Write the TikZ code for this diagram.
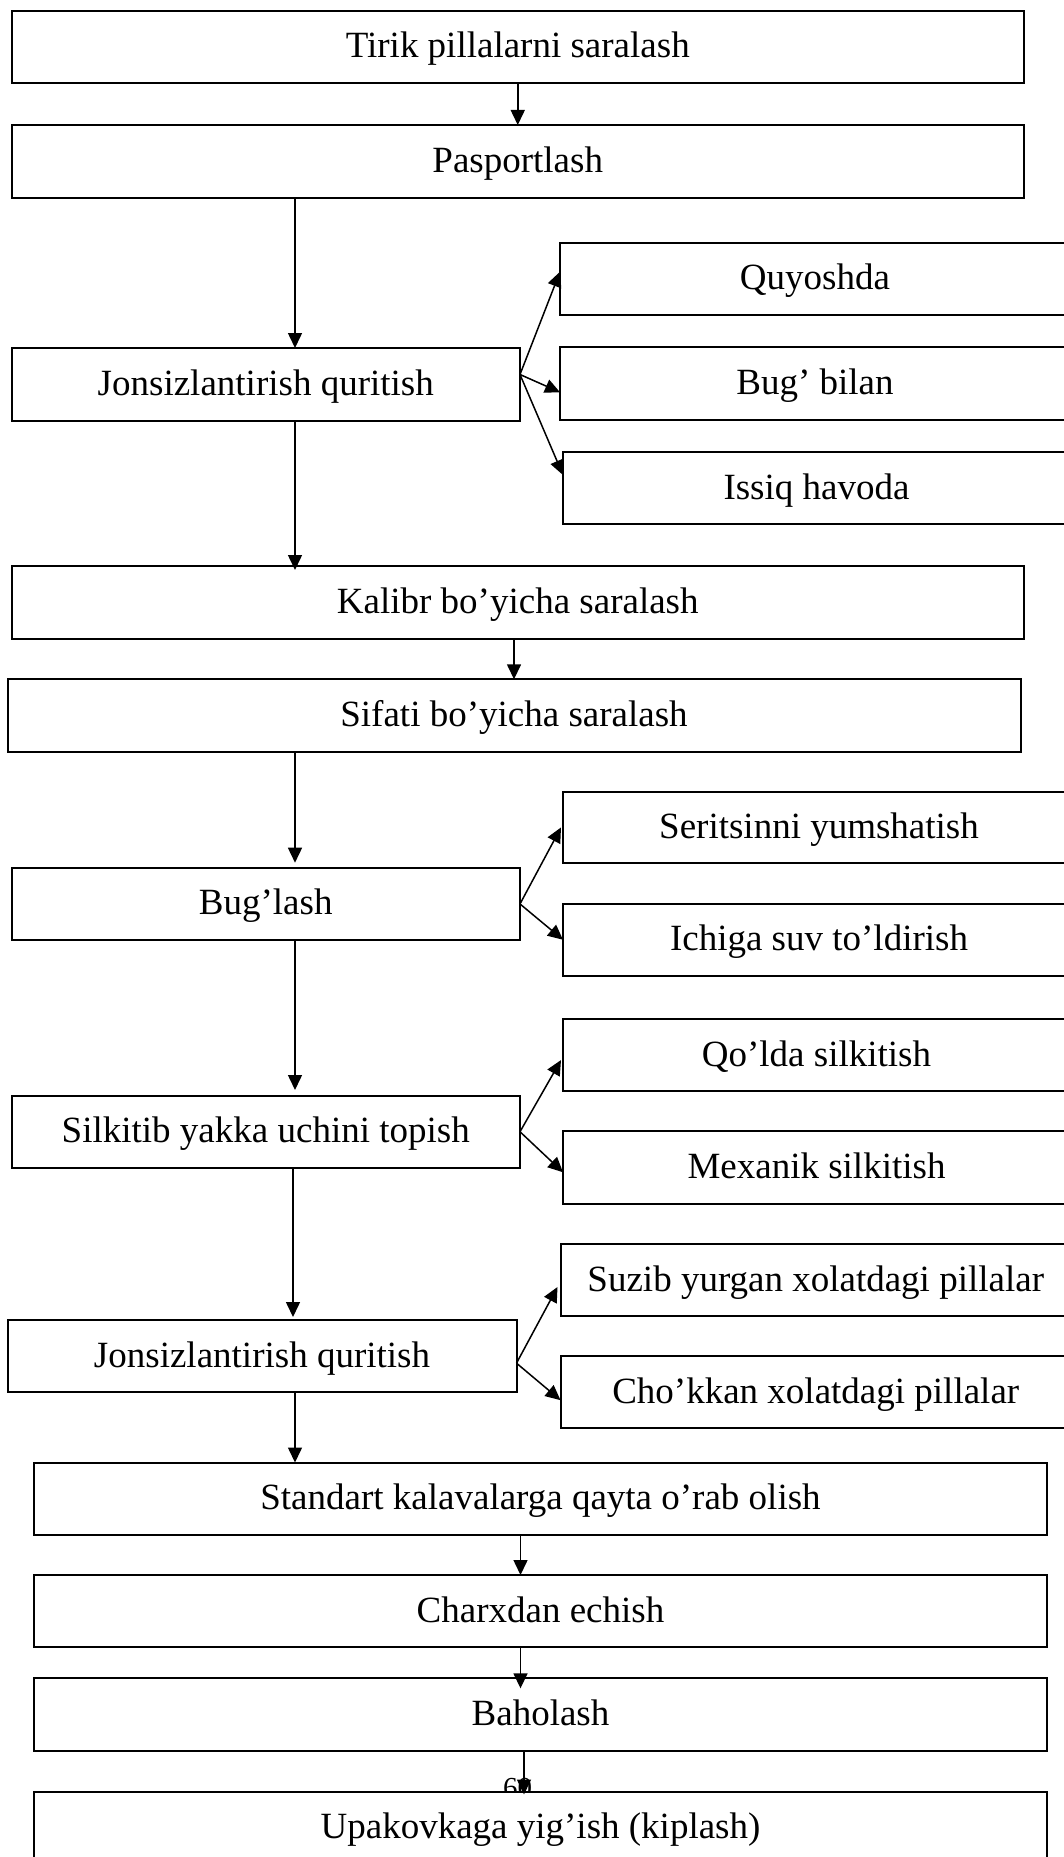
\documentclass[tikz,border=0pt]{standalone}
\usepackage{fontspec}
\setmainfont{Liberation Serif}
\usetikzlibrary{arrows.meta}
\begin{document}
\begin{tikzpicture}[x=1pt,y=-1pt,
  box/.style={draw=black, fill=white, line width=2pt, inner sep=0pt, outer sep=0pt, anchor=north west,
    font=\fontsize{37}{44}\selectfont, text height=28pt, text depth=6pt, align=center},
  arr/.style={draw=black, line width=1.5pt, -{Triangle[length=15pt,width=14pt]}}]
\fill[white] (0,0) rectangle (1064,1857);
\useasboundingbox (0,0) rectangle (1064,1857);
% page number (partly hidden by the last box)
\node[anchor=base, inner sep=0pt, font=\fontsize{29}{34}\selectfont] (pg) at (517.5,1797.5) {60};
% main column
\node[box, minimum width=1012.5pt, minimum height=72pt] (t1) at (11.5,11) {Tirik pillalarni saralash};
\node[box, minimum width=1012.5pt, minimum height=72.5pt] (t2) at (11.5,125) {Pasportlash};
\node[box, minimum width=508.5pt, minimum height=73pt] (j1) at (11.5,348) {Jonsizlantirish quritish};
\node[box, minimum width=510pt, minimum height=71.5pt] (q1) at (560,243) {Quyoshda};
\node[box, minimum width=510pt, minimum height=72.5pt] (q2) at (560,347) {Bug’ bilan};
\node[box, minimum width=507pt, minimum height=72pt] (q3) at (563,452) {Issiq havoda};
\node[box, minimum width=1012.5pt, minimum height=73pt] (k) at (11.5,566) {Kalibr bo’yicha saralash};
\node[box, minimum width=1013pt, minimum height=72.5pt] (s) at (7.5,679.3) {Sifati bo’yicha saralash};
\node[box, minimum width=508.5pt, minimum height=72.5pt] (b) at (11.5,867.7) {Bug’lash};
\node[box, minimum width=512pt, minimum height=71.5pt] (b1) at (563,791.7) {Seritsinni yumshatish};
\node[box, minimum width=512pt, minimum height=71.5pt] (b2) at (563,904) {Ichiga suv to’ldirish};
\node[box, minimum width=508.5pt, minimum height=71.5pt] (m) at (11.5,1096) {Silkitib yakka uchini topish};
\node[box, minimum width=507pt, minimum height=71.5pt] (m1) at (563,1019.3) {Qo’lda silkitish};
\node[box, minimum width=507pt, minimum height=72.5pt] (m2) at (563,1131) {Mexanik silkitish};
\node[box, minimum width=509pt, minimum height=72.3pt] (j2) at (7.5,1320) {Jonsizlantirish quritish};
\node[box, minimum width=510.5pt, minimum height=72pt] (j21) at (560.5,1244) {Suzib yurgan xolatdagi pillalar};
\node[box, minimum width=510.5pt, minimum height=72.3pt] (j22) at (560.5,1356) {Cho’kkan xolatdagi pillalar};
\node[box, minimum width=1013pt, minimum height=72pt] (st) at (34,1462.5) {Standart kalavalarga qayta o’rab olish};
\node[box, minimum width=1013pt, minimum height=72.3pt] (ch) at (34,1575) {Charxdan echish};
\node[box, minimum width=1013pt, minimum height=73pt] (bh) at (34,1678.3) {Baholash};
\node[box, minimum width=1013pt, minimum height=72.5pt] (up) at (34,1791.5) {Upakovkaga yig’ish (kiplash)};
% guide coordinates
\coordinate (L) at (295,0);
\coordinate (K) at (514,0);
\coordinate (C) at (520.5,0);
\coordinate (D) at (524,0);
\coordinate (M) at (293,0);
% connectors
\draw[arr] (t1.south) -- (t2.north);
\draw[arr] (t2.south -| L) -- (j1.north -| L);
\draw[arr] ([yshift=10pt]j1.east) -- ([yshift=7pt]q1.west);
\draw[arr] ([yshift=10pt]j1.east) -- ([yshift=-9pt]q2.west);
\draw[arr] ([yshift=10pt]j1.east) -- ([yshift=13pt]q3.west);
\draw[arr] (j1.south -| L) -- ([yshift=-4pt]k.north -| L);
\draw[arr] (k.south -| K) -- (s.north -| K);
\draw[arr] (s.south -| L) -- ([yshift=5pt]b.north -| L);
\draw[arr] (b.east) -- ([xshift=-2pt]b1.west);
\draw[arr] (b.east) -- (b2.west);
\draw[arr] (m.east) -- ([xshift=-2pt,yshift=-5pt]m1.west);
\draw[arr] (m.east) -- ([yshift=-5pt]m2.west);
\draw[arr] (b.south -| L) -- ([yshift=6pt]m.north -| L);
\draw[arr] (m.south -| M) -- ([yshift=3pt]j2.north -| M);
\draw[arr] ([yshift=-7pt]j2.east) -- ([xshift=-3pt,yshift=-7pt]j21.west);
\draw[arr] ([yshift=-7pt]j2.east) -- ([yshift=-8pt]j22.west);
\draw[arr] (j2.south -| L) -- (st.north -| L);
\draw[arr] (st.south -| C) -- (ch.north -| C);
\draw[arr] (ch.south -| C) -- ([yshift=-10pt]bh.north -| C);
\draw[arr] (bh.south -| D) -- ([yshift=-3pt]up.north -| D);
\end{tikzpicture}
\end{document}
